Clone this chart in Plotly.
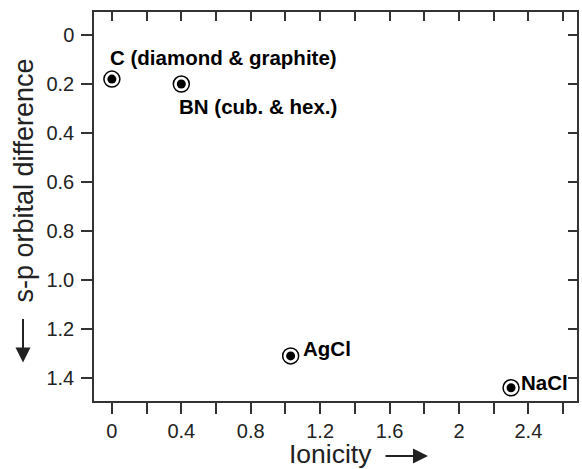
import plotly.graph_objects as go

# Data
materials = ["C (diamond & graphite)", "BN (cub. & hex.)", "AgCl", "NaCl"]
ionicity = [0.0, 0.40, 1.03, 2.30]
sp_diff = [0.18, 0.20, 1.31, 1.44]

x_tickvals = [0, 0.2, 0.4, 0.6, 0.8, 1.0, 1.2, 1.4, 1.6, 1.8, 2.0, 2.2, 2.4, 2.6]
x_ticktext = ["0", "", "0.4", "", "0.8", "", "1.2", "", "1.6", "", "2", "", "2.4", ""]
y_tickvals = [0, 0.2, 0.4, 0.6, 0.8, 1.0, 1.2, 1.4]
y_ticktext = ["0", "0.2", "0.4", "0.6", "0.8", "1.0", "1.2", "1.4"]

# label offsets in pixels (placement style)
label_style = [
    dict(xshift=-4, yshift=22),
    dict(xshift=-4, yshift=-22),
    dict(xshift=10, yshift=7),
    dict(xshift=8, yshift=5),
]

xr = [-0.103, 2.68]
yr = [1.494, -0.094]
FONT = "Liberation Sans, Arial, DejaVu Sans, sans-serif"
LINE = "#333333"
TXT = "#222222"

fig = go.Figure()
fig.add_trace(go.Scatter(
    x=ionicity, y=sp_diff, mode="markers",
    marker=dict(size=16, color="rgba(0,0,0,0)", line=dict(color="black", width=1.5)),
    hoverinfo="skip", showlegend=False))
fig.add_trace(go.Scatter(
    x=ionicity, y=sp_diff, mode="markers",
    marker=dict(size=9, color="black", line=dict(width=0)),
    showlegend=False))
# invisible traces so the mirrored tick axes are drawn
fig.add_trace(go.Scatter(x=ionicity[:1], y=sp_diff[:1], xaxis="x2", yaxis="y",
                         mode="markers", marker=dict(opacity=0), hoverinfo="skip",
                         showlegend=False))
fig.add_trace(go.Scatter(x=ionicity[:1], y=sp_diff[:1], xaxis="x", yaxis="y2",
                         mode="markers", marker=dict(opacity=0), hoverinfo="skip",
                         showlegend=False))

for name, xv, yv, st in zip(materials, ionicity, sp_diff, label_style):
    fig.add_annotation(x=xv, y=yv, xref="x", yref="y", text="<b>%s</b>" % name,
                       showarrow=False, xanchor="left", yanchor="middle",
                       font=dict(family=FONT, size=20.5, color="black"), **st)

# axis titles (text + separate drawn arrows)
fig.add_annotation(xref="paper", yref="paper", x=0.5, y=0, xanchor="center",
                   yanchor="middle", xshift=-5, yshift=-53, showarrow=False,
                   text="Ionicity", font=dict(family=FONT, size=26.5, color=TXT))
fig.add_annotation(xref="paper", yref="paper", x=0.5, y=0, xshift=92.5, yshift=-55,
                   text="", showarrow=True, ax=-44, ay=0, arrowhead=2,
                   arrowsize=1.5, arrowwidth=2, arrowcolor=TXT, standoff=0)
fig.add_annotation(xref="paper", yref="paper", x=0, y=0.5, xanchor="center",
                   yanchor="middle", xshift=-71, yshift=26, showarrow=False,
                   textangle=-90, text="s-p orbital difference",
                   font=dict(family=FONT, size=27, color=TXT))
fig.add_annotation(xref="paper", yref="paper", x=0, y=0.5, xshift=-71, yshift=-156,
                   text="", showarrow=True, ax=0, ay=-45, arrowhead=2,
                   arrowsize=1.5, arrowwidth=2, arrowcolor=TXT, standoff=0)

common = dict(showgrid=False, zeroline=False, linecolor=LINE,
              linewidth=1.5, tickcolor=LINE, tickwidth=1.5)

fig.update_layout(
    width=582, height=469,
    margin=dict(l=94, r=3, t=12, b=68),
    plot_bgcolor="white", paper_bgcolor="white",
    font=dict(family=FONT, size=20, color=TXT),
    xaxis=dict(range=xr, tickmode="array", tickvals=x_tickvals, ticktext=x_ticktext,
               ticks="outside", ticklen=11, tickfont=dict(size=20),
               showline=True, mirror=True, **common),
    yaxis=dict(range=yr, tickmode="array", tickvals=y_tickvals, ticktext=y_ticktext,
               ticks="outside", ticklen=11, tickfont=dict(size=20),
               ticklabelstandoff=3,
               showline=True, mirror=True, **common),
    xaxis2=dict(range=xr, overlaying="x", anchor="y", side="top", tickmode="array",
                tickvals=x_tickvals, showticklabels=False, ticks="inside", ticklen=9,
                showline=False, **common),
    yaxis2=dict(range=yr, overlaying="y", anchor="x", side="right", tickmode="array",
                tickvals=y_tickvals, showticklabels=False, ticks="inside", ticklen=9,
                showline=False, **common),
)

fig.write_html("out.html", config={"displayModeBar": False},
               post_script="document.body.style.margin='0px';document.body.style.padding='0px';")
